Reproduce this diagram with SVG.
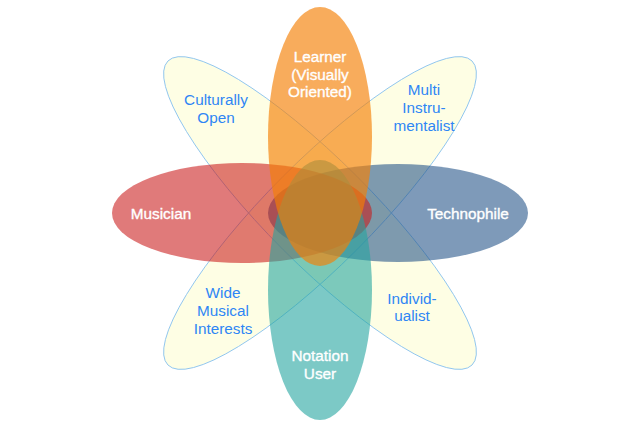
<svg xmlns="http://www.w3.org/2000/svg" width="640" height="426" viewBox="0 0 640 426">
<style>
.lbl{font-family:"Liberation Sans",Arial,Helvetica,sans-serif;font-size:15.3px;text-anchor:middle}
.w{fill:#ffffff;stroke:#ffffff;stroke-width:0.35}
.b{fill:#2e86f5}
.yel{fill:#fdfdc4;fill-opacity:0.45;stroke:none}
.yline{fill:none;stroke:#8cc3ee;stroke-width:0.9}
</style>
<rect width="640" height="426" fill="#ffffff"/>
<g id="petals-diagonal">
<ellipse class="yel" cx="320" cy="213" rx="215" ry="52" transform="rotate(45 320 213)"/>
<ellipse class="yel" cx="320" cy="213" rx="215" ry="52" transform="rotate(-45 320 213)"/>
<ellipse class="yline" cx="320" cy="213" rx="215" ry="52" transform="rotate(45 320 213)"/>
<ellipse class="yline" cx="320" cy="213" rx="215" ry="52" transform="rotate(-45 320 213)"/>
</g>
<g id="node-culturally-open">
<text class="lbl b" x="216" y="105">Culturally</text>
<text class="lbl b" x="216" y="123">Open</text>
</g>
<g id="node-multi-instrumentalist">
<text class="lbl b" x="424" y="95">Multi</text>
<text class="lbl b" x="424" y="113">Instru-</text>
<text class="lbl b" x="424" y="131">mentalist</text>
</g>
<g id="node-wide-musical-interests">
<text class="lbl b" x="223" y="298">Wide</text>
<text class="lbl b" x="223" y="316">Musical</text>
<text class="lbl b" x="223" y="334">Interests</text>
</g>
<g id="node-individualist">
<text class="lbl b" x="412" y="304">Individ-</text>
<text class="lbl b" x="412" y="321">ualist</text>
</g>
<g id="node-technophile">
<ellipse cx="398" cy="213" rx="130" ry="49" fill="#28578a" fill-opacity="0.6"/>
<text class="lbl w" x="468" y="219">Technophile</text>
</g>
<g id="node-musician">
<ellipse cx="242" cy="213" rx="130" ry="50" fill="#ca1818" fill-opacity="0.575"/>
<text class="lbl w" x="161" y="219">Musician</text>
</g>
<g id="node-notation-user">
<ellipse cx="320" cy="290" rx="52" ry="130" fill="#25a5a0" fill-opacity="0.6"/>
<text class="lbl w" x="320" y="361">Notation</text>
<text class="lbl w" x="320" y="379">User</text>
</g>
<g id="node-learner">
<ellipse cx="320" cy="136.5" rx="52" ry="129.5" fill="#f58005" fill-opacity="0.65"/>
<text class="lbl w" x="320" y="62">Learner</text>
<text class="lbl w" x="320" y="80">(Visually</text>
<text class="lbl w" x="320" y="97">Oriented)</text>
</g>
<g id="connectors"/>
</svg>
